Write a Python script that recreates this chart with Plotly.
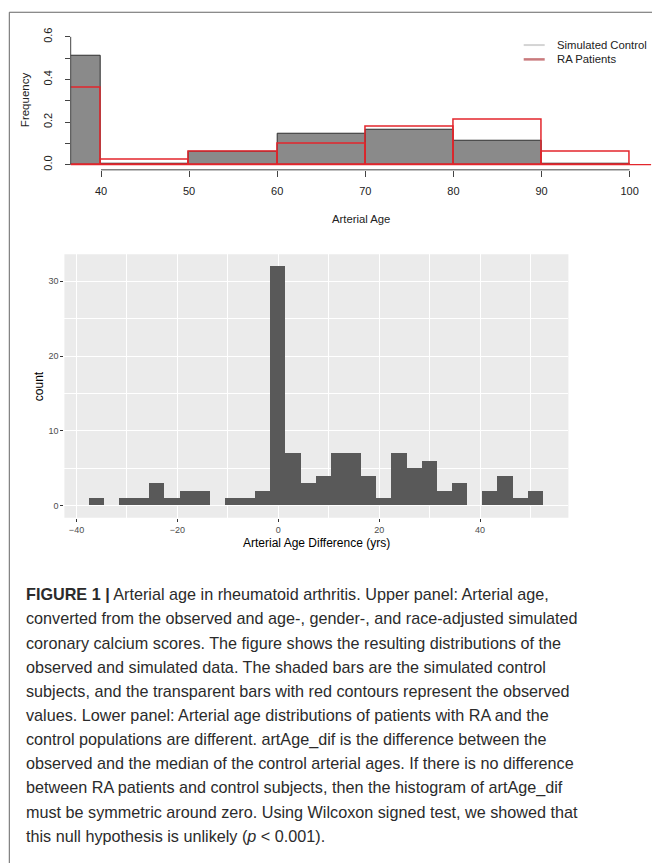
import plotly.graph_objects as go

# ---------------- DATA ----------------
# Upper panel: arterial age histograms (relative frequency), bins of 10 years
age_bin_edges = [30, 40, 50, 60, 70, 80, 90, 100]
control_freq = [0.510, 0.005, 0.063, 0.146, 0.162, 0.111, 0.006]   # Simulated Control
ra_freq = [0.359, 0.025, 0.062, 0.098, 0.179, 0.212, 0.061]        # RA Patients
upper_xticks = [40, 50, 60, 70, 80, 90, 100]
upper_yticks = [0.0, 0.2, 0.4, 0.6]
upper_yticklabels = ["0.0", "0.2", "0.4", "0.6"]
upper_yminor = [0.1, 0.3, 0.5]

# Lower panel: arterial age difference histogram, bin width 3
diff_bin_centers = [-36, -33, -30, -27, -24, -21, -18, -15, -12, -9, -6, -3, 0, 3, 6,
                    9, 12, 15, 18, 21, 24, 27, 30, 33, 36, 39, 42, 45, 48, 51]
diff_counts = [1, 0, 1, 1, 3, 1, 2, 2, 0, 1, 1, 2, 32, 7, 3,
               4, 7, 7, 4, 1, 7, 5, 6, 2, 3, 0, 2, 4, 1, 2]
diff_bin_width = 3
lower_xticks = [-40, -20, 0, 20, 40]
lower_xminor = [-30, -10, 10, 30, 50]
lower_yticks = [0, 10, 20, 30]
lower_yminor = [5, 15, 25]

caption_lines = [
    "<b>FIGURE 1 |</b> Arterial age in rheumatoid arthritis. Upper panel: Arterial age,",
    "converted from the observed and age-, gender-, and race-adjusted simulated",
    "coronary calcium scores. The figure shows the resulting distributions of the",
    "observed and simulated data. The shaded bars are the simulated control",
    "subjects, and the transparent bars with red contours represent the observed",
    "values. Lower panel: Arterial age distributions of patients with RA and the",
    "control populations are different. artAge_dif is the difference between the",
    "observed and the median of the control arterial ages. If there is no difference",
    "between RA patients and control subjects, then the histogram of artAge_dif",
    "must be symmetric around zero. Using Wilcoxon signed test, we showed that",
    "this null hypothesis is unlikely (<i>p</i> &lt; 0.001).",
]

# ---------------- FIGURE ----------------
W, H = 652, 864
FONT = "Liberation Sans, Arial, sans-serif"

def px(xpix):
    return xpix / W

def py(ypix):
    return (H - ypix) / H

age_centers = [(a + b) / 2 for a, b in zip(age_bin_edges[:-1], age_bin_edges[1:])]
age_widths = [b - a for a, b in zip(age_bin_edges[:-1], age_bin_edges[1:])]

fig = go.Figure()

fig.add_trace(go.Bar(
    x=age_centers, y=control_freq, width=age_widths,
    marker=dict(color="#8a8a8a", line=dict(color="#2e2e2e", width=1)),
    name="Simulated Control", showlegend=False, xaxis="x", yaxis="y",
))
fig.add_trace(go.Bar(
    x=age_centers, y=ra_freq, width=age_widths,
    marker=dict(color="rgba(0,0,0,0)", line=dict(color="#e3262c", width=1.5)),
    name="RA Patients", showlegend=False, xaxis="x", yaxis="y",
))
fig.add_trace(go.Bar(
    x=diff_bin_centers, y=diff_counts, width=diff_bin_width,
    marker=dict(color="#595959", line=dict(width=0)),
    name="count", showlegend=False, xaxis="x2", yaxis="y2",
))

axis_common = dict(zeroline=False, showline=False, fixedrange=True)

fig.update_layout(
    width=W, height=H,
    margin=dict(l=0, r=0, t=0, b=0),
    paper_bgcolor="white", plot_bgcolor="rgba(0,0,0,0)",
    barmode="overlay", bargap=0,
    font=dict(family=FONT, color="#222222"),
    xaxis=dict(
        domain=[px(70.7), px(651.1)], range=[36.56, 102.44], anchor="y",
        tickvals=upper_xticks, ticks="outside", ticklen=6, tickwidth=1, tickcolor="#444444",
        tickfont=dict(size=11, color="#222222"), ticklabelstandoff=5,
        showgrid=False, **axis_common,
    ),
    yaxis=dict(
        domain=[py(166.8), py(27.9)], range=[-0.024, 0.624], anchor="x",
        tickvals=upper_yticks, ticktext=upper_yticklabels, tickangle=-90,
        ticks="outside", ticklen=5, tickwidth=1, tickcolor="#444444",
        tickfont=dict(size=11, color="#222222"), ticklabelstandoff=8,
        minor=dict(tickvals=upper_yminor, ticks="outside", ticklen=5, tickwidth=1,
                   tickcolor="#444444", showgrid=False),
        showgrid=False, **axis_common,
    ),
    xaxis2=dict(
        domain=[px(64.4), px(568.4)], range=[-42.4, 57.5], anchor="y2",
        tickvals=lower_xticks, ticks="outside", ticklen=3, tickwidth=1, tickcolor="#333333",
        tickfont=dict(size=9, color="#4d4d4d"),
        showgrid=True, gridcolor="white", gridwidth=1.2,
        minor=dict(tickvals=lower_xminor, showgrid=True, gridcolor="white", gridwidth=0.6, ticks=""),
        **axis_common,
    ),
    yaxis2=dict(
        domain=[py(516.7), py(251.7)], range=[-1.6, 33.6], anchor="x2",
        tickvals=lower_yticks, ticks="outside", ticklen=3, tickwidth=1, tickcolor="#333333",
        tickfont=dict(size=9, color="#4d4d4d"),
        showgrid=True, gridcolor="white", gridwidth=1.2,
        minor=dict(tickvals=lower_yminor, showgrid=True, gridcolor="white", gridwidth=0.6, ticks=""),
        **axis_common,
    ),
)

shapes = [
    # grey panel background (ggplot theme_grey)
    dict(type="rect", xref="x2 domain", yref="y2 domain", x0=0, x1=1, y0=0, y1=1,
         fillcolor="#ebebeb", line=dict(width=0), layer="below"),
    # upper panel axis lines (base R style: only across tick range)
    dict(type="line", xref="x", yref="y domain", x0=min(upper_xticks), x1=max(upper_xticks),
         y0=0, y1=0, line=dict(color="#444444", width=1)),
    dict(type="line", xref="x domain", yref="y", x0=0, x1=0,
         y0=min(upper_yticks), y1=max(upper_yticks), line=dict(color="#444444", width=1)),
    # red baseline
    dict(type="line", xref="x domain", yref="y", x0=0, x1=1, y0=0, y1=0,
         line=dict(color="#e3262c", width=1.2)),
    # legend keys
    dict(type="line", xref="paper", yref="paper", x0=px(523.7), x1=px(544.7),
         y0=py(41.3), y1=py(41.3), line=dict(color="#d4d4d4", width=2)),
    dict(type="line", xref="paper", yref="paper", x0=px(523.7), x1=px(544.7),
         y0=py(55.7), y1=py(55.7), line=dict(color="#c97a7d", width=2.5)),
    # figure frame
    dict(type="line", xref="paper", yref="paper", x0=px(9.3), x1=1, y0=py(8.3), y1=py(8.3),
         line=dict(color="#666666", width=1)),
    dict(type="line", xref="paper", yref="paper", x0=px(9.3), x1=px(9.3), y0=0, y1=py(8.3),
         line=dict(color="#666666", width=1)),
]
fig.update_layout(shapes=shapes)

ann = [
    dict(text="Frequency", x=px(25), y=py(96.7), textangle=-90,
         font=dict(size=11.5, color="#222222")),
    dict(text="Arterial Age", x=px(361), y=py(216.7), font=dict(size=11.3, color="#222222")),
    dict(text="Simulated Control", x=px(554.7), y=py(41.3), xanchor="left",
         font=dict(size=11.3, color="#222222")),
    dict(text="RA Patients", x=px(554.7), y=py(55.7), xanchor="left",
         font=dict(size=11.3, color="#222222")),
    dict(text="count", x=px(38.4), y=py(384), textangle=-90, font=dict(size=12, color="black")),
    dict(text="Arterial Age Difference (yrs)", x=px(316.4), y=py(541.7),
         font=dict(size=12, color="black")),
]
for i, line in enumerate(caption_lines):
    ann.append(dict(text=line, x=px(24), y=py(593.7 + 24.3 * i), xanchor="left",
                    font=dict(size=16.2, color="#2b2b2b")))

for a in ann:
    a.setdefault("xref", "paper")
    a.setdefault("yref", "paper")
    a.setdefault("showarrow", False)
    a.setdefault("xanchor", "center")
    a.setdefault("yanchor", "middle")
fig.update_layout(annotations=ann)

fig.write_html(
    "out.html",
    config={"displayModeBar": False},
    post_script="document.body.style.margin='0';document.body.style.overflow='hidden';",
)
